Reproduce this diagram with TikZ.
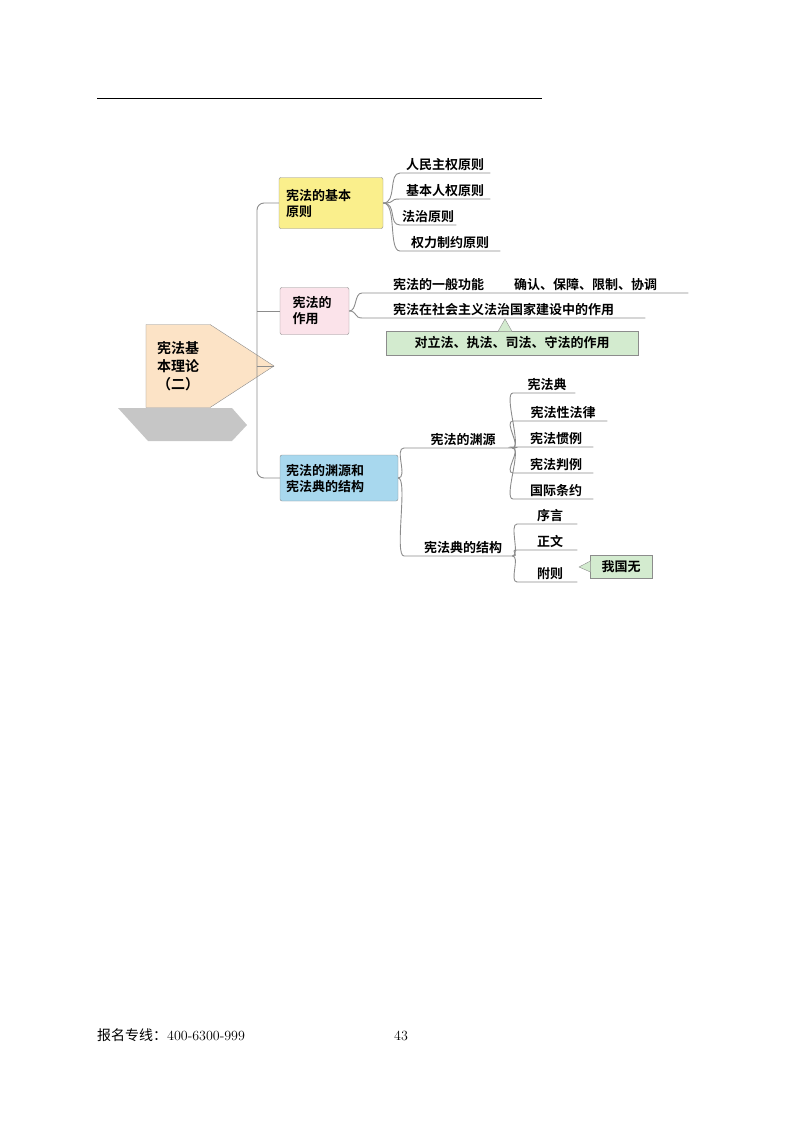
\documentclass[tikz,border=0pt]{standalone}
\usepackage{fontspec}
\newfontfamily\cjk{Noto Sans CJK SC}[BoldFont={Noto Sans CJK SC Bold}]
\newfontfamily\cjkr{Noto Sans CJK SC}
\usetikzlibrary{shapes.symbols}
\definecolor{lc}{HTML}{8C8C8C}
\definecolor{yel}{HTML}{FAEF8C}
\definecolor{pnk}{HTML}{FBE3EA}
\definecolor{blu}{HTML}{A8D8EE}
\definecolor{grn}{HTML}{D3EBCF}
\definecolor{peach}{HTML}{FCE3C6}
\begin{document}
\begin{tikzpicture}[x=1pt,y=-1pt,
  box/.style={draw=lc,rounded corners=2,align=left,font=\cjk\bfseries\fontsize{13}{16}\selectfont,inner sep=0pt},
  leaf/.style={anchor=south west,inner sep=2pt,font=\cjk\bfseries\fontsize{13}{16}\selectfont,align=left},
  conn/.style={draw=lc,line width=0.9pt},
  gbox/.style={draw=lc,fill=grn,font=\cjk\bfseries\fontsize{13}{16}\selectfont,inner sep=0pt}]
\useasboundingbox (0,0) rectangle (800,1124);
\draw[line width=0.9pt] (97,98) -- (542,98);
% shadow
\fill[gray!45] (118,408) -- (232,408) -- (247,425) -- (232,441) -- (148,441) -- cycle;
% root
\node[signal,signal to=east,signal pointer angle=66,draw=lc,fill=peach,minimum width=128,minimum height=83,inner sep=0pt,font=\cjk\bfseries\fontsize{14}{18}\selectfont,align=center] (root) at (178,366) {宪法基\\本理论\\（二）};
% main boxes
\node[box,fill=yel,minimum width=104,minimum height=51,text width=90] (b1) at (331,203) {宪法的基本\\原则};
\node[box,fill=pnk,minimum width=69,minimum height=47,text width=44] (b2) at (314.5,311) {宪法的\\作用};
\node[box,fill=blu,minimum width=118,minimum height=46,text width=106] (b3) at (339,478) {宪法的渊源和\\宪法典的结构};
\coordinate (t) at (257,366);
\draw[conn] (root.east) -- (t);
\draw[conn,rounded corners=7] (b1.west) -| (t) |- (b3.west);
\draw[conn] (b2.west -| t) -- (b2.west);
% box1 leaves
\node[leaf,minimum width=90] (l1) at (400,173) {人民主权原则};
\node[leaf,minimum width=90] (l2) at (400,199) {基本人权原则};
\node[leaf,minimum width=25] (l3) at (400,225) {法治原则};
\node[leaf,minimum width=100] (l4) at (400,251) {权力制约原则};
\foreach \l in {l1,l2,l3,l4}
  \draw[conn] (b1.east) .. controls +(14,0) and +(-12,0) .. (\l.south west) -- (\l.south east);
% box2 leaves
\node[leaf,minimum width=326] (m1) at (362,293) {宪法的一般功能\hspace{30pt}确认、保障、限制、协调};
\node[leaf,minimum width=283] (m2) at (362,318) {宪法在社会主义法治国家建设中的作用};
\foreach \l in {m1,m2}
  \draw[conn] (b2.east) .. controls +(8,0) and +(-8,0) .. (\l.south west) -- (\l.south east);
\node[gbox,minimum width=252,minimum height=24] (g1) at (512,343) {对立法、执法、司法、守法的作用};
\filldraw[draw=lc,fill=grn] (498,331.4) -- (505,319) -- (512,331.4);
% box3 children
\node[leaf,minimum width=108] (s1) at (404,448) {\hspace{10pt}宪法的渊源};
\node[leaf,minimum width=108] (s2) at (404,556) {\hspace{10pt}宪法典的结构};
\foreach \l in {s1,s2}
  \draw[conn] (b3.east) .. controls +(10,0) and +(-10,0) .. (\l.south west) -- (\l.south east);
\node[leaf,minimum width=62] (r1) at (513,393) {\hspace{6pt}宪法典};
\node[leaf,minimum width=94] (r2) at (513,421) {\hspace{6pt}宪法性法律};
\node[leaf,minimum width=80] (r3) at (513,447) {\hspace{6pt}宪法惯例};
\node[leaf,minimum width=80] (r4) at (513,473) {\hspace{6pt}宪法判例};
\node[leaf,minimum width=80] (r5) at (513,499) {\hspace{6pt}国际条约};
\foreach \l in {r1,r2,r3,r4,r5}
  \draw[conn] (s1.south east) .. controls +(10,0) and +(-10,0) .. (\l.south west) -- (\l.south east);
\node[leaf,minimum width=60] (q1) at (517,524) {\hspace{6pt}序言};
\node[leaf,minimum width=60] (q2) at (517,550) {\hspace{6pt}正文};
\node[leaf,minimum width=60] (q3) at (517,582) {\hspace{6pt}附则};
\foreach \l in {q1,q2,q3}
  \draw[conn] (s2.south east) .. controls +(8,0) and +(-8,0) .. (\l.south west) -- (\l.south east);
\node[gbox,minimum width=62,minimum height=23] (g2) at (621,566.5) {我国无};
\filldraw[draw=lc,fill=grn] (590.4,561) -- (579,567) -- (590.4,572);
% footer
\node[anchor=base west,inner sep=0pt,font=\fontsize{14}{16}\selectfont] (f1) at (97,1040) {{\cjkr 报名专线：}400-6300-999};
\node[anchor=base west,inner sep=0pt,font=\fontsize{14}{16}\selectfont] (f2) at (394,1040) {43};
\end{tikzpicture}
\end{document}
